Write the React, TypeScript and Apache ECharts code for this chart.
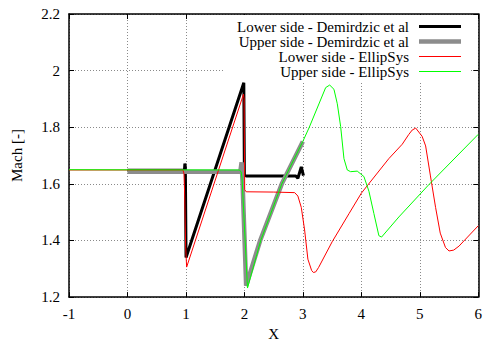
import React, { useEffect, useRef } from "react";
import * as echarts from "echarts";

const xTicks = [-1, 0, 1, 2, 3, 4, 5, 6];
const yTicks = [1.2, 1.4, 1.6, 1.8, 2.0, 2.2];

const seriesNames = [
  "Lower side - Demirdzic et al",
  "Upper side - Demirdzic et al",
  "Lower side - EllipSys",
  "Upper side - EllipSys",
];

const lowerDemX = [0, 0.975, 0.982, 0.99, 1.002, 1.99, 2.0, 2.03, 2.5, 2.88, 2.915, 2.973, 3.01];
const lowerDemY = [1.648, 1.648, 1.672, 1.66, 1.34, 1.957, 1.63, 1.628, 1.628, 1.628, 1.62, 1.66, 1.629];

const upperDemX = [0, 1.93, 1.952, 1.97, 2.03, 2.27, 2.64, 3.0];
const upperDemY = [1.643, 1.643, 1.676, 1.6, 1.24, 1.4, 1.6, 1.75];

const lowerEllX = [
  -1, 0.95, 0.968, 0.98, 0.995, 1.012, 1.985, 1.995, 2.005, 2.03, 2.5, 2.86, 2.915, 2.973,
  3.03, 3.086, 3.15, 3.18, 3.22, 3.27, 3.5, 3.79, 4.0, 4.47, 4.7, 4.81, 4.87, 4.93, 5.04,
  5.1, 5.18, 5.27, 5.35, 5.44, 5.5, 5.58, 5.67, 6.0,
];
const lowerEllY = [
  1.649, 1.649, 1.635, 1.55, 1.38, 1.306, 1.917, 1.9, 1.58, 1.572, 1.571, 1.569, 1.557, 1.517,
  1.437, 1.334, 1.294, 1.287, 1.289, 1.305, 1.395, 1.495, 1.567, 1.689, 1.74, 1.774, 1.79, 1.797, 1.768,
  1.734, 1.631, 1.517, 1.426, 1.375, 1.363, 1.366, 1.38, 1.452,
];

const upperEllX = [
  -1, 1.915, 1.945, 1.96, 2.053, 2.28, 2.64, 3.0, 3.11, 3.39, 3.459, 3.532, 3.589, 3.646,
  3.703, 3.76, 3.817, 3.93, 4.044, 4.13, 4.215, 4.3, 4.346, 4.642, 5.154, 6.0,
];
const upperEllY = [
  1.65, 1.649, 1.642, 1.62, 1.232, 1.4, 1.6, 1.75, 1.8, 1.94, 1.949, 1.934, 1.883, 1.803,
  1.689, 1.649, 1.643, 1.645, 1.626, 1.574, 1.495, 1.417, 1.412, 1.483, 1.597, 1.775,
];

const colors = ["#000000", "#8c8c8c", "#ff0000", "#00ff00"];
const widths = [3, 4.5, 1, 1];

const zip = (xs: number[], ys: number[]) => xs.map((x, i) => [x, ys[i]]);

const FONT = "'Liberation Serif', 'DejaVu Serif', serif";

export default function App() {
  const ref = useRef<HTMLDivElement>(null);
  useEffect(() => {
    if (!ref.current) return;
    const chart = echarts.init(ref.current, undefined, { renderer: "svg" });
    const datasets = [
      zip(lowerDemX, lowerDemY),
      zip(upperDemX, upperDemY),
      zip(lowerEllX, lowerEllY),
      zip(upperEllX, upperEllY),
    ];
    const gridLine = { show: true, lineStyle: { color: "#8a8a8a", type: [1, 2], width: 1 } };
    const axisLine = { show: true, onZero: false, lineStyle: { color: "#000", width: 1.5 } };
    const tick = { show: true, inside: true, length: 5, lineStyle: { color: "#000", width: 1 } };
    chart.setOption({
      animation: false,
      backgroundColor: "#fff",
      grid: { left: 69, right: 5.5, top: 14, bottom: 40, containLabel: false },
      legend: {
        orient: "vertical",
        right: 15,
        top: 15,
        align: "right",
        itemWidth: 42,
        itemHeight: 12,
        itemGap: 0,
        symbolKeepAspect: true,
        backgroundColor: "#fff",
        padding: [4, 9, 2, 14],
        textStyle: { fontFamily: FONT, fontSize: 15, color: "#000", padding: [0, 5, 0, 0] },
        data: seriesNames.map((name, i) => ({
          name,
          icon: `path://M0,0H42V${widths[i]}H0Z`,
          itemStyle: { color: colors[i] },
        })),
      },
      xAxis: [
        {
          type: "value",
          min: xTicks[0],
          max: xTicks[xTicks.length - 1],
          interval: 1,
          name: "X",
          nameLocation: "middle",
          nameGap: 24,
          nameTextStyle: { fontFamily: FONT, fontSize: 15, color: "#000" },
          axisLine,
          axisTick: tick,
          axisLabel: { fontFamily: FONT, fontSize: 15, color: "#000", margin: 9 },
          splitLine: gridLine,
        },
        {
          type: "value",
          position: "top",
          min: xTicks[0],
          max: xTicks[xTicks.length - 1],
          interval: 1,
          axisLine,
          axisTick: tick,
          axisLabel: { show: false },
          splitLine: { show: false },
        },
      ],
      yAxis: [
        {
          type: "value",
          min: yTicks[0],
          max: yTicks[yTicks.length - 1],
          interval: 0.2,
          name: "Mach [-]",
          nameLocation: "middle",
          nameRotate: 90,
          nameGap: 45,
          nameTextStyle: { fontFamily: FONT, fontSize: 15, color: "#000" },
          axisLine,
          axisTick: tick,
          axisLabel: {
            fontFamily: FONT,
            fontSize: 15,
            color: "#000",
            margin: 9,
            formatter: (v: number) => String(Math.round(v * 10) / 10),
          },
          splitLine: gridLine,
        },
        {
          type: "value",
          position: "right",
          min: yTicks[0],
          max: yTicks[yTicks.length - 1],
          interval: 0.2,
          axisLine,
          axisTick: tick,
          axisLabel: { show: false },
          splitLine: { show: false },
        },
      ],
      series: seriesNames.map((name, i) => ({
        name,
        type: "line",
        data: datasets[i],
        xAxisIndex: 0,
        yAxisIndex: 0,
        showSymbol: false,
        symbol: "none",
        lineStyle: { color: colors[i], width: widths[i] },
        itemStyle: { color: colors[i] },
        clip: true,
      })),
    });
    return () => chart.dispose();
  }, []);
  return <div ref={ref} style={{ width: 485, height: 346, position: "absolute", left: 0, top: 0 }} />;
}
